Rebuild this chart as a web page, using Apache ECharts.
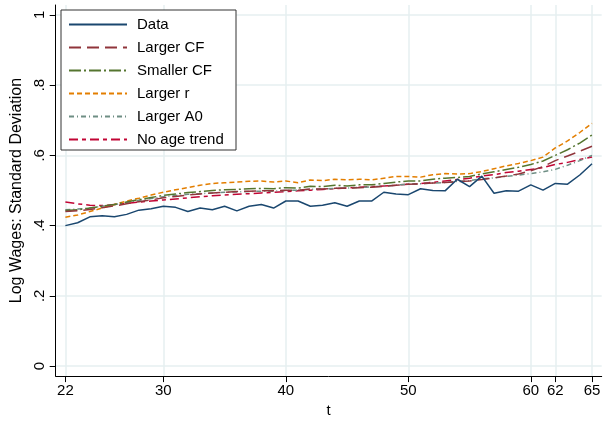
<!DOCTYPE html>
<html><head><meta charset="utf-8">
<script src="https://cdn.jsdelivr.net/npm/echarts@6/dist/echarts.min.js"></script>
<style>html,body{margin:0;padding:0;background:#fff}#c{width:613px;height:423px}</style>
</head><body><div id="c"></div>
<script>
const ages = [22,23,24,25,26,27,28,29,30,31,32,33,34,35,36,37,38,39,40,41,42,43,44,45,46,47,48,49,50,51,52,53,54,55,56,57,58,59,60,61,62,63,64,65];
const dataSeries = [0.400,0.408,0.425,0.428,0.425,0.432,0.444,0.448,0.455,0.452,0.440,0.450,0.445,0.455,0.442,0.455,0.460,0.450,0.470,0.470,0.455,0.458,0.465,0.455,0.470,0.470,0.495,0.490,0.488,0.505,0.500,0.499,0.532,0.511,0.541,0.492,0.499,0.498,0.516,0.501,0.520,0.518,0.544,0.576];
const largerCF = [0.440,0.442,0.446,0.451,0.456,0.462,0.468,0.473,0.479,0.483,0.487,0.490,0.493,0.495,0.497,0.498,0.499,0.499,0.501,0.501,0.504,0.504,0.506,0.506,0.508,0.509,0.512,0.515,0.518,0.519,0.521,0.523,0.525,0.527,0.531,0.536,0.541,0.547,0.556,0.568,0.585,0.598,0.612,0.626];
const smallerCF = [0.443,0.445,0.450,0.455,0.460,0.467,0.474,0.480,0.486,0.490,0.494,0.497,0.500,0.502,0.503,0.505,0.506,0.505,0.508,0.507,0.512,0.511,0.515,0.513,0.516,0.516,0.520,0.524,0.527,0.527,0.532,0.535,0.537,0.540,0.547,0.553,0.560,0.566,0.574,0.584,0.600,0.616,0.635,0.658];
const largerR = [0.424,0.430,0.440,0.450,0.460,0.470,0.478,0.487,0.495,0.502,0.508,0.515,0.520,0.522,0.524,0.526,0.527,0.524,0.527,0.522,0.530,0.528,0.532,0.530,0.532,0.530,0.535,0.540,0.540,0.538,0.545,0.548,0.547,0.548,0.554,0.562,0.570,0.577,0.585,0.595,0.621,0.641,0.665,0.691];
const largerA0 = [0.445,0.447,0.450,0.455,0.460,0.466,0.472,0.477,0.482,0.486,0.489,0.491,0.493,0.495,0.496,0.497,0.498,0.498,0.500,0.501,0.503,0.504,0.506,0.507,0.509,0.510,0.513,0.515,0.518,0.519,0.521,0.523,0.526,0.528,0.533,0.536,0.540,0.544,0.548,0.553,0.560,0.572,0.585,0.600];
const noAgeTrend = [0.467,0.462,0.458,0.457,0.460,0.463,0.467,0.470,0.473,0.476,0.479,0.482,0.485,0.487,0.489,0.491,0.493,0.495,0.497,0.499,0.501,0.503,0.505,0.507,0.509,0.511,0.513,0.515,0.518,0.520,0.523,0.527,0.531,0.535,0.541,0.545,0.551,0.555,0.560,0.565,0.574,0.580,0.588,0.595];
const xTicks = [22,30,40,50,60,62,65];
const yTicks = [0,0.2,0.4,0.6,0.8,1];
const seriesNames = ['Data','Larger CF','Smaller CF','Larger r','Larger A0','No age trend'];

const seriesValues = [dataSeries, largerCF, smallerCF, largerR, largerA0, noAgeTrend];
const colors = ['#1a476f','#90353b','#55752f','#e37e00','#6e8e84','#c10534'];
const dashes = ['solid',[12,6],[12,3,2,3],[5,3],[5,3,1,3],[9,4,4,4]];
const font = 'Liberation Sans, Arial, sans-serif';

const chart = echarts.init(document.getElementById('c'), null, {renderer:'canvas'});
chart.setOption({
  animation:false,
  backgroundColor:'#ffffff',
  grid:{left:55.7, right:11.3, top:5, bottom:41.7, containLabel:false},
  xAxis:{
    type:'value', min:21.21, max:65.79,
    name:'t', nameLocation:'middle', nameGap:23,
    nameTextStyle:{color:'#000', fontFamily:font, fontSize:15},
    axisLine:{show:true, onZero:false, lineStyle:{color:'#000', width:1}},
    axisTick:{show:true, length:6, customValues:xTicks, lineStyle:{color:'#000'}},
    axisLabel:{show:true, customValues:xTicks, margin:7, color:'#000', fontFamily:font, fontSize:15},
    splitLine:{show:true, lineStyle:{color:'#e6eff1', width:1.5}}
  },
  yAxis:{
    type:'value', min:-0.0284, max:1.028,
    name:'Log Wages: Standard Deviation', nameLocation:'middle', nameGap:24,
    nameTextStyle:{color:'#000', fontFamily:font, fontSize:16},
    axisLine:{show:true, onZero:false, lineStyle:{color:'#000', width:1}},
    axisTick:{show:true, length:6, customValues:yTicks, lineStyle:{color:'#000'}},
    axisLabel:{show:true, customValues:yTicks, rotate:90, margin:8, color:'#000', fontFamily:font, fontSize:15,
      formatter:function(v){ if (Math.abs(v)<1e-9) return '0'; if (Math.abs(v-1)<1e-9) return '1'; return String(Math.round(v*10)/10).replace(/^0/,''); }},
    splitLine:{show:true, lineStyle:{color:'#e6eff1', width:1.5}}
  },
  graphic:[{type:'rect', shape:{x:61, y:10, width:175, height:140}, style:{fill:'#fff', stroke:'#333', lineWidth:1}, z:50}],
  legend:{
    orient:'vertical', left:61, top:11, z:60,
    padding:[6,8,6,7], itemWidth:58, itemHeight:14, itemGap:8,
    itemStyle:{opacity:0},
    textStyle:{color:'#000', fontFamily:font, fontSize:15, lineHeight:14, padding:[0,0,0,5]},
    data:seriesNames
  },
  series: seriesNames.map((n,i)=>({
    name:n, type:'line', showSymbol:false, symbol:'none',
    data: ages.map((a,j)=>[a, seriesValues[i][j]]),
    lineStyle:{color:colors[i], width:1.5, type:dashes[i]},
    itemStyle:{color:colors[i]},
    z: 10 - i
  }))
});
</script></body></html>
